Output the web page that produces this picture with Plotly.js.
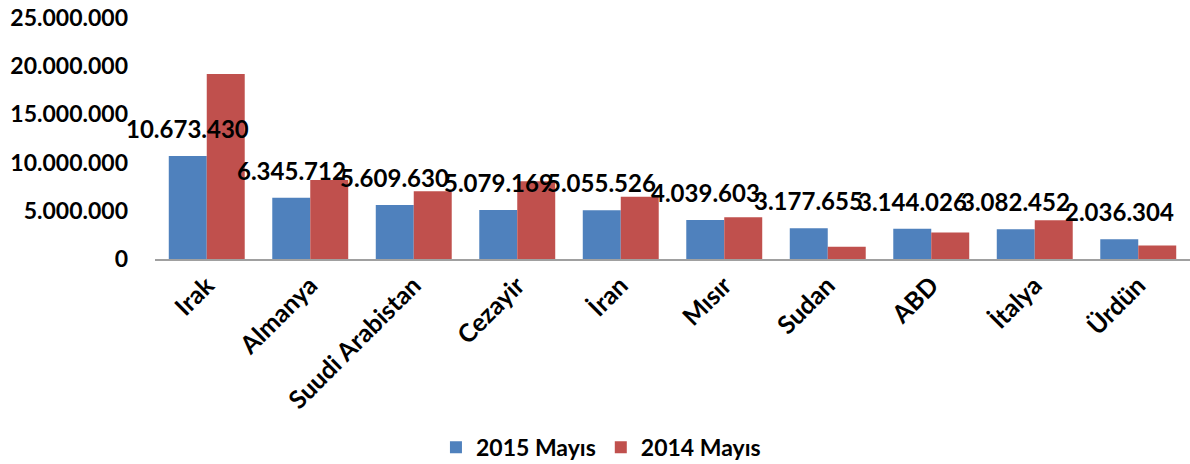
<!DOCTYPE html>
<html>
<head>
<meta charset="utf-8">
<script src="https://cdn.plot.ly/plotly-3.0.1.min.js"></script>
<style>html,body{margin:0;padding:0;background:#fff;}#chart{width:1190px;height:464px;}</style>
</head>
<body>
<div id="chart"></div>
<script>
const categories = ["Irak", "Almanya", "Suudi Arabistan", "Cezayir", "İran", "Mısır", "Sudan", "ABD", "İtalya", "Ürdün"];
const may2015 = [10673430, 6345712, 5609630, 5079169, 5055526, 4039603, 3177655, 3144026, 3082452, 2036304];
const may2014 = [19190000, 8200000, 7020000, 8060000, 6450000, 4330000, 1270000, 2740000, 4020000, 1410000];
const seriesNames = ["2015 Mayıs", "2014 Mayıs"];
const yTicks = [0, 5000000, 10000000, 15000000, 20000000, 25000000];

const FONT = "Lato, 'Open Sans', sans-serif";
function fmt(v) { return String(Math.round(v)).replace(/\B(?=(\d{3})+(?!\d))/g, "."); }

const traces = [
  {type: "bar", name: seriesNames[0], x: categories, y: may2015, marker: {color: "#4F81BD"}, hoverinfo: "none"},
  {type: "bar", name: seriesNames[1], x: categories, y: may2014, marker: {color: "#C0504D"}, hoverinfo: "none"}
];

const annotations = categories.map((c, i) => ({
  x: c, y: may2015[i], xref: "x", yref: "y",
  text: "<b>" + fmt(may2015[i]) + "</b>",
  showarrow: false, xanchor: "center", yanchor: "bottom",
  xshift: -19, yshift: 11,
  font: {family: FONT, size: 24, color: "#000"}
}));

const layout = {
  width: 1190, height: 464,
  margin: {l: 155, r: 0, t: 18, b: 205},
  paper_bgcolor: "#fff", plot_bgcolor: "#fff",
  separators: ",.",
  barmode: "group", bargap: 0.266, bargroupgap: 0,
  showlegend: true,
  legend: {
    orientation: "h", xref: "container", yref: "container",
    x: 0.505, xanchor: "center", y: 0.036, yanchor: "middle",
    font: {family: FONT, size: 23, color: "#000", weight: "bold"},
    itemwidth: 30, traceorder: "normal"
  },
  xaxis: {
    type: "category", range: [-0.5, categories.length - 0.5], autorange: false,
    tickangle: -45, showgrid: false, zeroline: false,
    showline: true, linecolor: "#A0A0A0", linewidth: 2,
    ticks: "", tickfont: {family: FONT, size: 25, color: "#000", weight: "bold"},
    automargin: false, fixedrange: true
  },
  yaxis: {
    range: [0, 25000000], autorange: false, tickvals: yTicks, ticktext: yTicks.map(fmt),
    showgrid: false, zeroline: false, showline: false, ticks: "",
    ticklabelstandoff: 26,
    tickfont: {family: FONT, size: 23, color: "#000", weight: "bold"},
    automargin: false, fixedrange: true
  },
  annotations: annotations
};

Plotly.newPlot("chart", traces, layout, {displayModeBar: false, staticPlot: true});
</script>
</body>
</html>
